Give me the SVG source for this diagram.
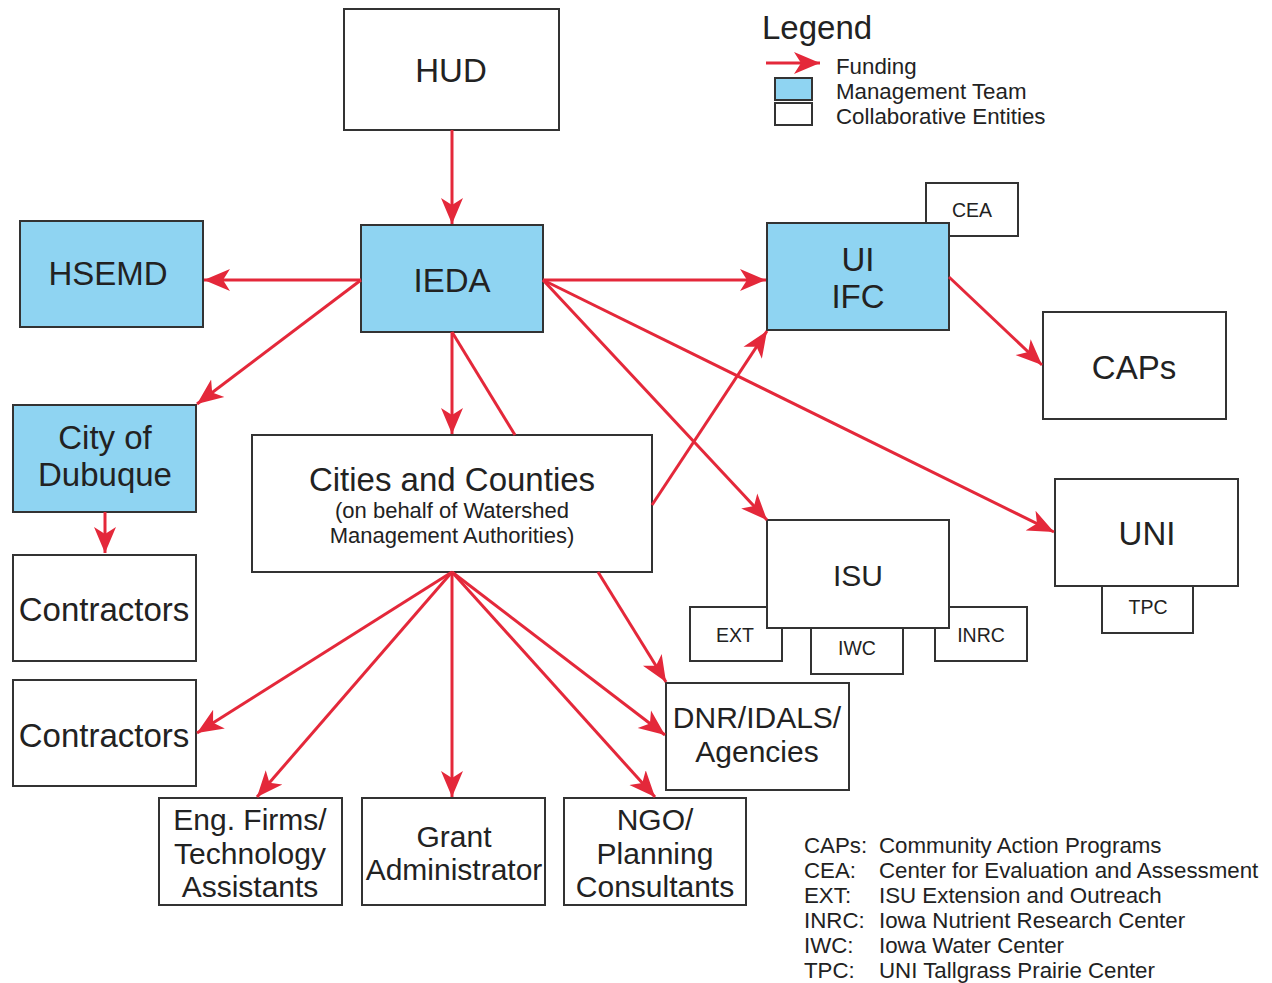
<svg xmlns="http://www.w3.org/2000/svg" width="1272" height="983" viewBox="0 0 1272 983">
<style>
.box{fill:#ffffff;stroke:#333333;stroke-width:2}
.mgmt{fill:#8fd4f2;stroke:#333333;stroke-width:2}
text{font-family:"Liberation Sans",Arial,sans-serif;fill:#222222;text-anchor:middle}
.big{font-size:33px}
.mid{font-size:30px}
.sub{font-size:22px}
.sm{font-size:19.5px}
.leg{font-size:22.3px;text-anchor:start}
.conn line{stroke:#e4283a;stroke-width:3;marker-end:url(#ah)}
.conn line.plain{marker-end:none}
</style>
<defs>
<marker id="ah" markerUnits="userSpaceOnUse" viewBox="-26 -12 28 24" refX="0" refY="0" markerWidth="28" markerHeight="24" orient="auto">
<path d="M0,0 L-26,-11 L-19,0 L-26,11 Z" fill="#e4283a"/>
</marker>
</defs>
<rect width="1272" height="983" fill="#ffffff"/>

<g id="legend">
<text x="762" y="39" class="big" style="text-anchor:start">Legend</text>
<line x1="766" y1="63" x2="820" y2="63" stroke="#e4283a" stroke-width="3" marker-end="url(#ah)"/>
<rect x="775" y="78" width="37" height="22" class="mgmt"/>
<rect x="775" y="103" width="37" height="22" class="box"/>
<text x="836" y="74" class="leg">Funding</text>
<text x="836" y="99" class="leg">Management Team</text>
<text x="836" y="124" class="leg">Collaborative Entities</text>
</g>

<g id="hud"><rect x="344" y="9" width="215" height="121" class="box"/><text x="451" y="82" class="big">HUD</text></g>
<g id="ieda"><rect x="361" y="225" width="182" height="107" class="mgmt"/><text x="452" y="292" class="big">IEDA</text></g>
<g id="hsemd"><rect x="20" y="221" width="183" height="106" class="mgmt"/><text x="108" y="285" class="big">HSEMD</text></g>
<g id="dubuque"><rect x="13" y="405" width="183" height="107" class="mgmt"/><text x="105" y="449" class="big">City of</text><text x="105" y="486" class="big">Dubuque</text></g>
<g id="contractors1"><rect x="13" y="555" width="183" height="106" class="box"/><text x="104" y="621" class="big">Contractors</text></g>
<g id="contractors2"><rect x="13" y="680" width="183" height="106" class="box"/><text x="104" y="747" class="big">Contractors</text></g>
<g id="cities"><rect x="252" y="435" width="400" height="137" class="box"/>
<text x="452" y="491" class="big">Cities and Counties</text>
<text x="452" y="518" class="sub">(on behalf of Watershed</text>
<text x="452" y="543" class="sub">Management Authorities)</text></g>
<g id="cea"><rect x="926" y="183" width="92" height="53" class="box"/><text x="972" y="217" class="sm">CEA</text></g>
<g id="uiifc"><rect x="767" y="223" width="182" height="107" class="mgmt"/><text x="858" y="271" class="big">UI</text><text x="858" y="308" class="big">IFC</text></g>
<g id="caps"><rect x="1043" y="312" width="183" height="107" class="box"/><text x="1134" y="379" class="big">CAPs</text></g>
<g id="tpc"><rect x="1102" y="586" width="91" height="47" class="box"/><text x="1148" y="614" class="sm">TPC</text></g>
<g id="uni"><rect x="1055" y="479" width="183" height="107" class="box"/><text x="1147" y="545" class="big">UNI</text></g>
<g id="ext"><rect x="690" y="607" width="92" height="54" class="box"/><text x="735" y="642" class="sm">EXT</text></g>
<g id="iwc"><rect x="811" y="620" width="92" height="54" class="box"/><text x="857" y="655" class="sm">IWC</text></g>
<g id="inrc"><rect x="935" y="607" width="92" height="54" class="box"/><text x="981" y="642" class="sm">INRC</text></g>
<g id="isu"><rect x="767" y="520" width="182" height="108" class="box"/><text x="858" y="586" class="mid">ISU</text></g>
<g id="dnr"><rect x="666" y="683" width="183" height="107" class="box"/><text x="757" y="728" class="mid">DNR/IDALS/</text><text x="757" y="762" class="mid">Agencies</text></g>
<g id="eng"><rect x="159" y="798" width="183" height="107" class="box"/><text x="250" y="830" class="mid">Eng. Firms/</text><text x="250" y="864" class="mid">Technology</text><text x="250" y="897" class="mid">Assistants</text></g>
<g id="grant"><rect x="362" y="798" width="183" height="107" class="box"/><text x="454" y="847" class="mid">Grant</text><text x="454" y="880" class="mid">Administrator</text></g>
<g id="ngo"><rect x="564" y="798" width="182" height="107" class="box"/><text x="655" y="830" class="mid">NGO/</text><text x="655" y="864" class="mid">Planning</text><text x="655" y="897" class="mid">Consultants</text></g>

<g id="connectors" class="conn">
<line x1="452" y1="130" x2="452" y2="224"/>
<line x1="361" y1="280" x2="204" y2="280"/>
<line x1="361" y1="280" x2="197" y2="404"/>
<line x1="452" y1="332" x2="452" y2="434"/>
<line x1="452" y1="332" x2="515" y2="435" class="plain"/>
<line x1="543" y1="280" x2="766" y2="280"/>
<line x1="543" y1="280" x2="767" y2="520"/>
<line x1="543" y1="280" x2="1054" y2="532"/>
<line x1="949" y1="277" x2="1042" y2="365"/>
<line x1="652" y1="505" x2="767" y2="331"/>
<line x1="105" y1="512" x2="105" y2="553"/>
<line x1="452" y1="572" x2="197" y2="733"/>
<line x1="452" y1="572" x2="257" y2="797"/>
<line x1="452" y1="572" x2="452" y2="797"/>
<line x1="452" y1="572" x2="655" y2="797"/>
<line x1="452" y1="572" x2="665" y2="735"/>
<line x1="598" y1="572" x2="666" y2="682"/>
</g>

<g id="abbreviations">
<text x="804" y="853" class="leg">CAPs:</text><text x="879" y="853" class="leg">Community Action Programs</text>
<text x="804" y="878" class="leg">CEA:</text><text x="879" y="878" class="leg">Center for Evaluation and Assessment</text>
<text x="804" y="903" class="leg">EXT:</text><text x="879" y="903" class="leg">ISU Extension and Outreach</text>
<text x="804" y="928" class="leg">INRC:</text><text x="879" y="928" class="leg">Iowa Nutrient Research Center</text>
<text x="804" y="953" class="leg">IWC:</text><text x="879" y="953" class="leg">Iowa Water Center</text>
<text x="804" y="978" class="leg">TPC:</text><text x="879" y="978" class="leg">UNI Tallgrass Prairie Center</text>
</g>
</svg>
